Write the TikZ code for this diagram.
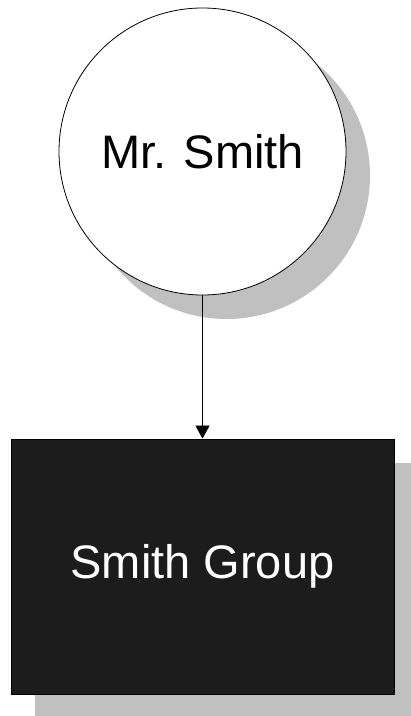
\documentclass[tikz,border=0pt]{standalone}
\usepackage{fontspec}
\setmainfont{Liberation Sans}
\usetikzlibrary{arrows.meta,shadows}
\definecolor{shadowgray}{HTML}{C0C0C0}
\definecolor{boxfill}{HTML}{1C1C1C}
\tikzset{
  myshadow/.style={copy shadow={shadow xshift=24pt, shadow yshift=-24pt, fill=shadowgray, draw=none}},
  person/.style={circle, draw=black, fill=white, line width=0.8pt, minimum size=287pt, inner sep=0pt, myshadow, font=\fontsize{47}{56}\selectfont},
  group/.style={rectangle, draw=black, fill=boxfill, text=white, line width=0.8pt, minimum width=383pt, minimum height=255pt, inner sep=0pt, myshadow, font=\fontsize{47}{56}\selectfont},
  link/.style={draw=black, line width=0.8pt, -{Triangle[width=14pt,length=13pt]}}
}
\begin{document}
\begin{tikzpicture}[x=1pt,y=1pt]
\useasboundingbox[fill=white] (0,0) rectangle (411,716);
\node[person] (smith) at (202.5,564.5) {Mr. Smith};
\node[group] (grp) at (202.5,149.5) {Smith Group};
\draw[link] (smith.south) -- (grp.north);
\end{tikzpicture}
\end{document}
